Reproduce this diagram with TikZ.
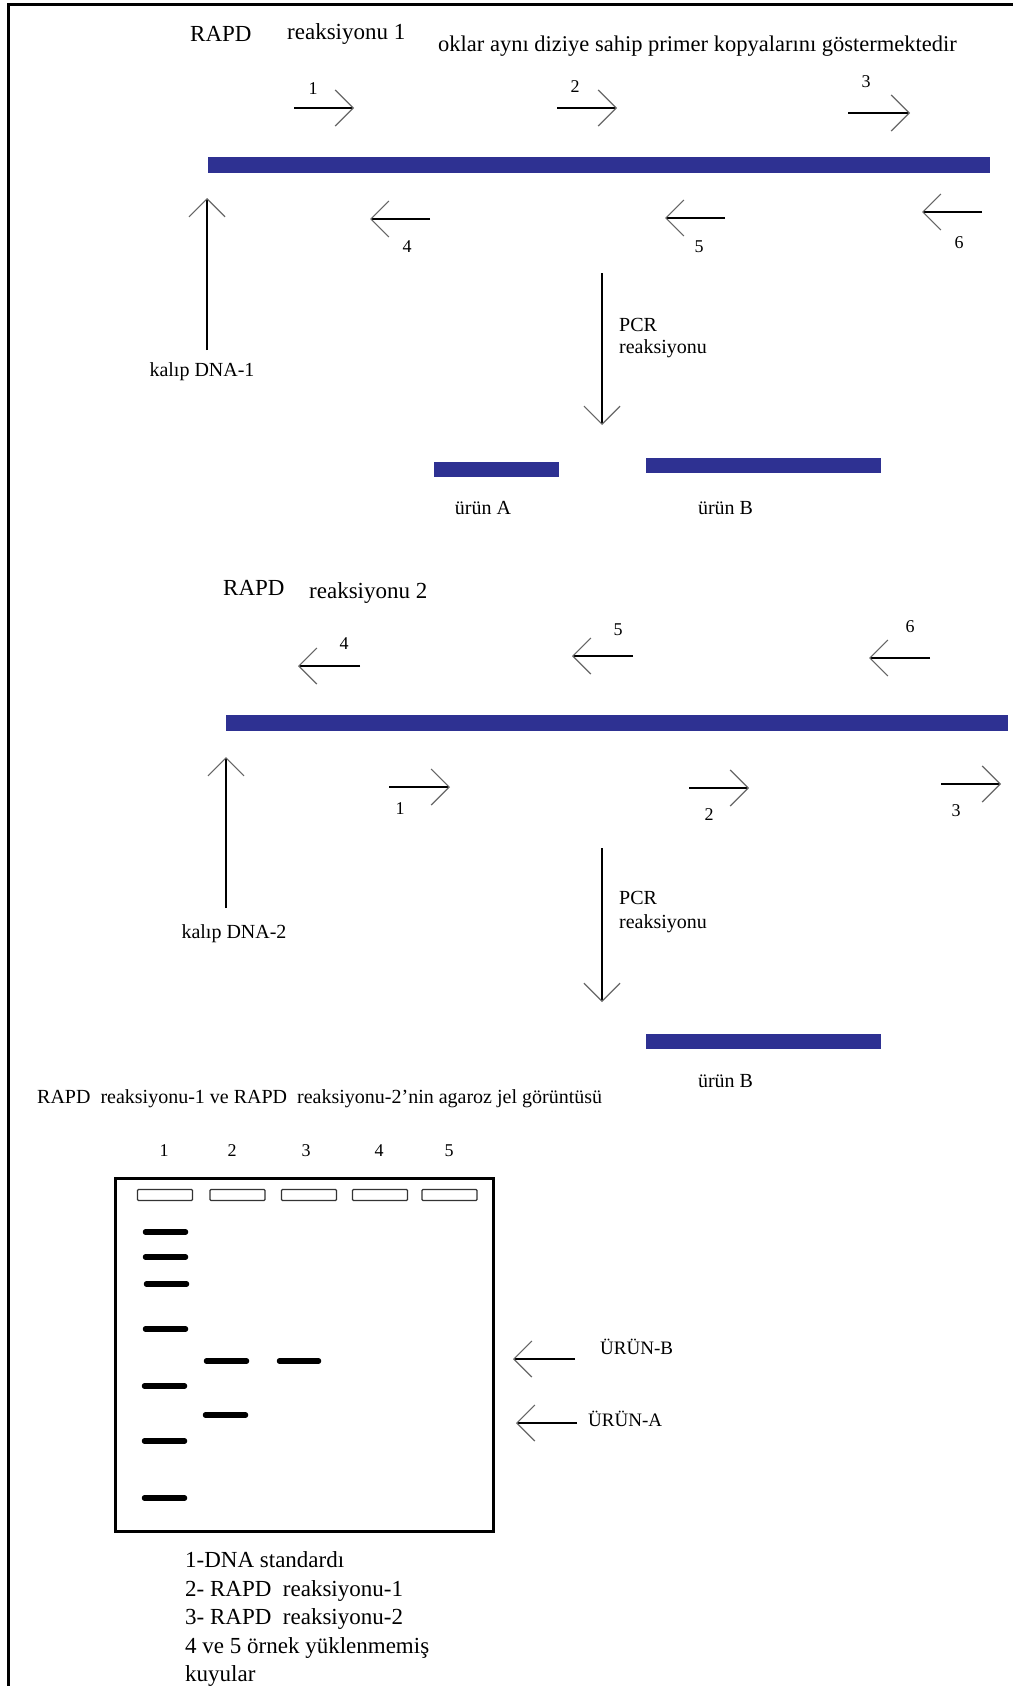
\documentclass[tikz,border=0pt]{standalone}
\usepackage{fontspec}
\setmainfont{Liberation Serif}
\usetikzlibrary{arrows.meta}

\definecolor{dnablue}{RGB}{46,49,146}

\begin{document}
\begin{tikzpicture}[x=1pt, y=-1pt,
	title/.style = {font=\fontsize{23}{27}\selectfont, inner sep=0pt, anchor=base west},
	lbl/.style = {font=\fontsize{20}{24}\selectfont, inner sep=0pt},
	num/.style = {font=\fontsize{18}{21}\selectfont, inner sep=0pt},
	legend/.style = {font=\fontsize{23}{28}\selectfont, inner sep=0pt, anchor=base west},
	strand/.style = {fill=dnablue, draw=none, inner sep=0pt, minimum height=16pt},
	primer/.style = {line width=1.6pt, -{Straight Barb[length=18pt, width=36pt, line width=1.2pt, color=black!60]}},
	band/.style = {line width=5.5pt, line cap=round},
	well/.style = {draw=black!80, line width=1.2pt, rounded corners=1pt, inner sep=0pt, minimum width=55pt, minimum height=11pt}]

	\useasboundingbox (0,0) rectangle (1013,1686);
	\draw[line width=3pt] (8,1686) -- (8,5) -- (1013,5);

	% RAPD reaksiyonu 1
	\node[title] (rapd1) at (190,42) {RAPD};
	\node[title] (reak1) at (287,40) {reaksiyonu 1};
	\node[title, font=\fontsize{22.5}{27}\selectfont] (note) at (438,52) {oklar aynı diziye sahip primer kopyalarını göstermektedir};

	\node[strand, minimum width=782pt] (dna1) at (599,164.5) {};

	\coordinate (t1a) at (294,108); \coordinate (t1b) at (354,108);
	\coordinate (t2a) at (557,108); \coordinate (t2b) at (617,108);
	\coordinate (t3a) at (848,113); \coordinate (t3b) at (910,113);
	\coordinate (t4a) at (430,219); \coordinate (t4b) at (370,219);
	\coordinate (t5a) at (725,218); \coordinate (t5b) at (665,218);
	\coordinate (t6a) at (982,212); \coordinate (t6b) at (922,212);
	\draw[primer] (t1a) -- (t1b);
	\draw[primer] (t2a) -- (t2b);
	\draw[primer] (t3a) -- (t3b);
	\draw[primer] (t4a) -- (t4b);
	\draw[primer] (t5a) -- (t5b);
	\draw[primer] (t6a) -- (t6b);
	\node[num] (t1) at (313,89) {1};
	\node[num] (t2) at (575,87) {2};
	\node[num] (t3) at (866,82) {3};
	\node[num] (t4) at (407,247) {4};
	\node[num] (t5) at (699,247) {5};
	\node[num] (t6) at (959,243) {6};

	\coordinate (k1a) at (207,350); \coordinate (k1b) at (207,198);
	\draw[primer] (k1a) -- (k1b);
	\node[lbl, anchor=base] (kalip1) at (202,376) {kalıp DNA-1};

	\coordinate (p1a) at (602,273); \coordinate (p1b) at (602,425);
	\draw[primer] (p1a) -- (p1b);
	\node[lbl, anchor=base west] (pcr1) at (619,331) {PCR};
	\node[lbl, anchor=base west] (pcr1r) at (619,353) {reaksiyonu};

	\node[strand, minimum width=125pt, minimum height=15pt] (urunA1) at (496.5,469.5) {};
	\node[strand, minimum width=235pt, minimum height=15pt] (urunB1) at (763.5,465.5) {};
	\node[lbl, anchor=base] (lblA1) at (483,514) {ürün A};
	\node[lbl, anchor=base] (lblB1) at (725.5,514) {ürün B};

	% RAPD reaksiyonu 2
	\node[title] (rapd2) at (223,595) {RAPD};
	\node[title] (reak2) at (309,598) {reaksiyonu 2};

	\node[strand, minimum width=782pt] (dna2) at (617,722.5) {};

	\coordinate (s1a) at (389,787); \coordinate (s1b) at (450,787);
	\coordinate (s2a) at (689,788); \coordinate (s2b) at (749,788);
	\coordinate (s3a) at (941,784); \coordinate (s3b) at (1001,784);
	\coordinate (s4a) at (360,666); \coordinate (s4b) at (298,666);
	\coordinate (s5a) at (633,656); \coordinate (s5b) at (572,656);
	\coordinate (s6a) at (930,658); \coordinate (s6b) at (869,658);
	\draw[primer] (s1a) -- (s1b);
	\draw[primer] (s2a) -- (s2b);
	\draw[primer] (s3a) -- (s3b);
	\draw[primer] (s4a) -- (s4b);
	\draw[primer] (s5a) -- (s5b);
	\draw[primer] (s6a) -- (s6b);
	\node[num] (s1) at (400,809) {1};
	\node[num] (s2) at (709,815) {2};
	\node[num] (s3) at (956,811) {3};
	\node[num] (s4) at (344,644) {4};
	\node[num] (s5) at (618,630) {5};
	\node[num] (s6) at (910,627) {6};

	\coordinate (k2a) at (226,908); \coordinate (k2b) at (226,757);
	\draw[primer] (k2a) -- (k2b);
	\node[lbl, anchor=base] (kalip2) at (234,938) {kalıp DNA-2};

	\coordinate (p2a) at (602,848); \coordinate (p2b) at (602,1002);
	\draw[primer] (p2a) -- (p2b);
	\node[lbl, anchor=base west] (pcr2) at (619,904) {PCR};
	\node[lbl, anchor=base west] (pcr2r) at (619,928) {reaksiyonu};

	\node[strand, minimum width=235pt, minimum height=15pt] (urunB2) at (763.5,1041.5) {};
	\node[lbl, anchor=base] (lblB2) at (725.5,1087) {ürün B};

	% agaroz jel
	\node[lbl, anchor=base west] (geltitle) at (37,1103) {RAPD\ \ reaksiyonu-1 ve RAPD\ \ reaksiyonu-2'nin agaroz jel görüntüsü};

	\node[num, anchor=base] (l1) at (164,1156) {1};
	\node[num, anchor=base] (l2) at (232,1156) {2};
	\node[num, anchor=base] (l3) at (306,1156) {3};
	\node[num, anchor=base] (l4) at (379,1156) {4};
	\node[num, anchor=base] (l5) at (449,1156) {5};

	\node[draw, line width=3pt, inner sep=0pt, minimum width=378pt, minimum height=353pt] (gel) at (304,1354.5) {};
	\node[well] (w1) at (165,1195) {};
	\node[well] (w2) at (237.5,1195) {};
	\node[well] (w3) at (309,1195) {};
	\node[well] (w4) at (380,1195) {};
	\node[well] (w5) at (449.5,1195) {};

	\draw[band] (145.5,1232) -- (185.5,1232);
	\draw[band] (145.5,1257) -- (185.5,1257);
	\draw[band] (146.5,1284) -- (186.5,1284);
	\draw[band] (145.5,1329) -- (185.5,1329);
	\draw[band] (144.5,1386) -- (184.5,1386);
	\draw[band] (144.5,1441) -- (184.5,1441);
	\draw[band] (144.5,1498) -- (184.5,1498);
	\draw[band] (206.5,1361) -- (246.5,1361);
	\draw[band] (205.5,1415) -- (245.5,1415);
	\draw[band] (279.5,1361) -- (318.5,1361);

	\coordinate (ubs) at (575,1359); \coordinate (ube) at (513,1359);
	\coordinate (uas) at (577,1423); \coordinate (uae) at (516,1423);
	\draw[primer] (ubs) -- (ube);
	\draw[primer] (uas) -- (uae);
	\node[lbl, anchor=base west, font=\fontsize{19}{23}\selectfont] (urunB) at (600,1354) {ÜRÜN-B};
	\node[lbl, anchor=base west, font=\fontsize{19}{23}\selectfont] (urunA) at (588,1426) {ÜRÜN-A};

	\node[legend] (leg1) at (185,1567) {1-DNA standardı};
	\node[legend] (leg2) at (185,1596) {2- RAPD\ \ reaksiyonu-1};
	\node[legend] (leg3) at (185,1624.5) {3- RAPD\ \ reaksiyonu-2};
	\node[legend] (leg4) at (185,1653) {4 ve 5 örnek yüklenmemiş};
	\node[legend] (leg5) at (185,1681) {kuyular};
\end{tikzpicture}
\end{document}
